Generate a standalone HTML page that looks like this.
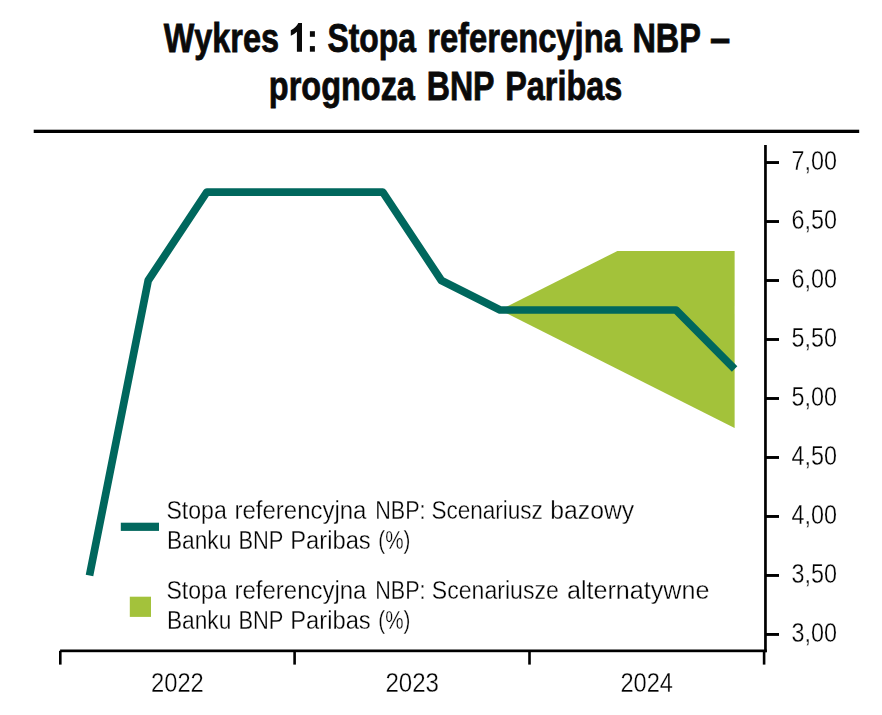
<!DOCTYPE html>
<html>
<head>
<meta charset="utf-8">
<title>Wykres 1</title>
<style>
html,body{margin:0;padding:0;background:#fff;}
body{width:882px;height:715px;overflow:hidden;position:relative;font-family:"Liberation Sans",sans-serif;}
svg{position:absolute;left:0;top:0;display:block;}
text{font-family:"Liberation Sans",sans-serif;font-kerning:none;}
.t{font-weight:bold;font-size:41.2px;fill:#0a0a0a;stroke:#0a0a0a;stroke-width:0.8px;}
.l{font-size:26.0px;fill:#000;stroke:#fff;stroke-width:0.3px;}
.d{font-size:27.0px;fill:#000;stroke:#fff;stroke-width:0.3px;}
</style>
</head>
<body>
<svg width="882" height="715" viewBox="0 0 882 715">
<rect x="0" y="0" width="882" height="715" fill="#ffffff"/>
<!-- title -->
<text class="t" transform="translate(163.67,51.50) scale(0.7871,1)">Wykres</text>
<text class="t" transform="translate(327.48,51.50) scale(0.7734,1)">Stopa</text>
<text class="t" transform="translate(427.14,51.50) scale(0.7947,1)">referencyjna</text>
<text class="t" transform="translate(632.43,51.50) scale(0.7884,1)">NBP</text>
<text class="t" transform="translate(709.90,51.50) scale(0.8824,1)">–</text>
<text class="t" transform="translate(268.86,99.80) scale(0.7883,1)">prognoza</text>
<text class="t" transform="translate(426.65,99.80) scale(0.7812,1)">BNP</text>
<text class="t" transform="translate(505.23,99.80) scale(0.7859,1)">Paribas</text>
<path d="M302,23 L298.3,23 Q296.2,27.6 290.8,30.2 L290.8,35.7 Q294.6,34.2 296.9,31.8 L296.9,51.7 L302,51.7 Z" fill="#0a0a0a"/>
<rect x="309.9" y="31.2" width="5" height="5.6" fill="#0a0a0a"/><rect x="309.9" y="46.1" width="5" height="5.6" fill="#0a0a0a"/>
<rect x="33.7" y="129.7" width="825.5" height="3.3" fill="#000"/>
<!-- forecast band -->
<polygon points="500.1,310.0 558.7,280.5 617.4,251.0 734.6,251.0 734.6,428.0" fill="#a3c23a"/>
<!-- base scenario line -->
<polyline points="89.5,575.5 148.2,280.5 206.8,192.1 265.4,192.1 324.1,192.1 382.8,192.1 441.4,280.5 500.1,310.0 558.7,310.0 617.4,310.0 676.0,310.0 734.6,369.0" fill="none" stroke="#00675d" stroke-width="7.7" stroke-linejoin="round" stroke-linecap="butt"/>
<!-- axes -->
<g fill="#000">
<rect x="764.1" y="145" width="2.7" height="507.2"/>
<rect x="60.1" y="649.5" width="706.7" height="2.7"/>
<rect x="59" y="650.8" width="2.6" height="13.8"/>
<rect x="293.3" y="650.8" width="2.6" height="13.8"/>
<rect x="528.2" y="650.8" width="2.6" height="13.8"/>
<rect x="762.8" y="650.8" width="2.6" height="13.8"/>
<rect x="765" y="161.08" width="14" height="2.9"/>
<rect x="765" y="220.07" width="14" height="2.9"/>
<rect x="765" y="279.06" width="14" height="2.9"/>
<rect x="765" y="338.05" width="14" height="2.9"/>
<rect x="765" y="397.04" width="14" height="2.9"/>
<rect x="765" y="456.03" width="14" height="2.9"/>
<rect x="765" y="515.02" width="14" height="2.9"/>
<rect x="765" y="574.01" width="14" height="2.9"/>
<rect x="765" y="633.00" width="14" height="2.9"/>
</g>
<g opacity="0.996">
<!-- y labels -->
<text class="d" transform="translate(791.60,170.08) scale(0.8641,1)">7,00</text>
<text class="d" transform="translate(791.60,229.07) scale(0.8641,1)">6,50</text>
<text class="d" transform="translate(791.60,288.06) scale(0.8641,1)">6,00</text>
<text class="d" transform="translate(791.60,347.05) scale(0.8641,1)">5,50</text>
<text class="d" transform="translate(791.60,406.04) scale(0.8641,1)">5,00</text>
<text class="d" transform="translate(791.60,465.03) scale(0.8641,1)">4,50</text>
<text class="d" transform="translate(791.60,524.02) scale(0.8641,1)">4,00</text>
<text class="d" transform="translate(791.60,583.01) scale(0.8641,1)">3,50</text>
<text class="d" transform="translate(791.60,642.00) scale(0.8641,1)">3,00</text>
<!-- x labels -->
<text class="d" transform="translate(151.01,691.60) scale(0.8788,1)">2022</text>
<text class="d" transform="translate(385.39,691.60) scale(0.8919,1)">2023</text>
<text class="d" transform="translate(620.41,691.60) scale(0.8754,1)">2024</text>
<!-- legend -->
<rect x="120.8" y="522.7" width="38.2" height="8.2" fill="#00675d"/>
<rect x="129.8" y="596.7" width="21.2" height="20.2" fill="#a3c23a"/>
<text class="l" transform="translate(166.45,518.90) scale(0.8882,1)">Stopa</text>
<text class="l" transform="translate(234.51,518.90) scale(0.9225,1)">referencyjna</text>
<text class="l" transform="translate(375.23,518.90) scale(0.8295,1)">NBP:</text>
<text class="l" transform="translate(431.38,518.90) scale(0.8673,1)">Scenariusz</text>
<text class="l" transform="translate(550.30,518.90) scale(0.9522,1)">bazowy</text>
<text class="l" transform="translate(166.93,548.50) scale(0.8746,1)">Banku</text>
<text class="l" transform="translate(238.40,548.50) scale(0.8427,1)">BNP</text>
<text class="l" transform="translate(290.15,548.50) scale(0.9144,1)">Paribas</text>
<text class="l" transform="translate(378.32,548.50) scale(0.7928,1)">(%)</text>
<text class="l" transform="translate(166.45,598.90) scale(0.8882,1)">Stopa</text>
<text class="l" transform="translate(234.51,598.90) scale(0.9225,1)">referencyjna</text>
<text class="l" transform="translate(375.23,598.90) scale(0.8295,1)">NBP:</text>
<text class="l" transform="translate(431.85,598.90) scale(0.8875,1)">Scenariusze</text>
<text class="l" transform="translate(566.93,598.90) scale(0.9672,1)">alternatywne</text>
<text class="l" transform="translate(166.93,628.60) scale(0.8746,1)">Banku</text>
<text class="l" transform="translate(238.40,628.60) scale(0.8427,1)">BNP</text>
<text class="l" transform="translate(290.15,628.60) scale(0.9144,1)">Paribas</text>
<text class="l" transform="translate(378.32,628.60) scale(0.7928,1)">(%)</text>
</g>
</svg>
</body>
</html>
